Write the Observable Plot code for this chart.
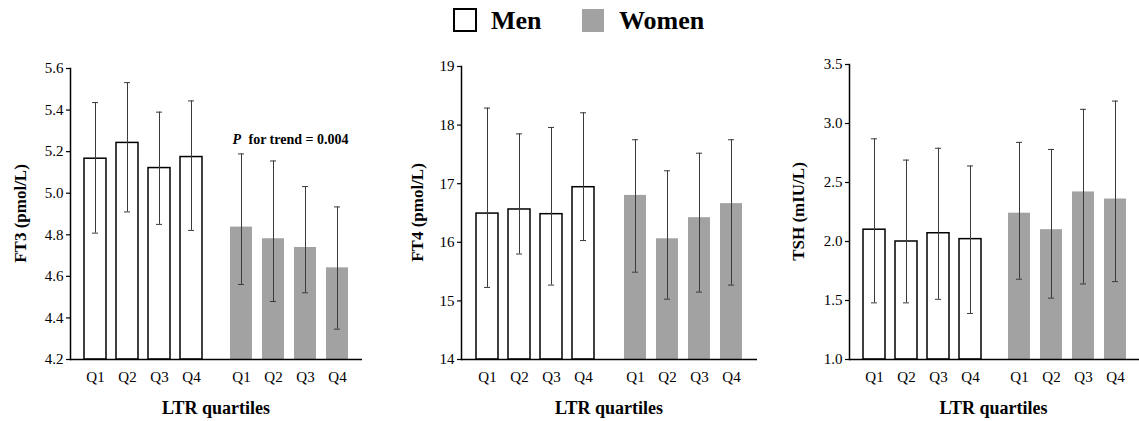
<!DOCTYPE html>
<html>
<head>
<meta charset="utf-8">
<script src="https://cdn.jsdelivr.net/npm/d3@7"></script>
<script src="https://cdn.jsdelivr.net/npm/@observablehq/plot@0.6"></script>
<style>
  html, body { margin: 0; padding: 0; background: #fff; }
  #wrap { position: relative; width: 1139px; height: 421px; overflow: hidden; font-family: "Liberation Serif", "Times New Roman", serif; }
  #legend { position: absolute; left: 0; top: 0; width: 1139px; height: 44px; }
  .lg-box { position: absolute; box-sizing: border-box; }
  .lg-text { position: absolute; font-size: 26px; font-weight: bold; line-height: 26px; color: #000; white-space: nowrap; }
  .panel { position: absolute; top: 44px; }
  .panel svg text { font-family: "Liberation Serif", "Times New Roman", serif; }
</style>
</head>
<body>
<div id="wrap">
  <div id="legend">
    <div class="lg-box" style="left:453px;top:8px;width:24px;height:24px;border:2px solid #000;background:#fff;"></div>
    <div class="lg-text" style="left:491px;top:8px;">Men</div>
    <div class="lg-box" style="left:582px;top:9px;width:22px;height:23px;background:#a2a2a2;"></div>
    <div class="lg-text" style="left:619px;top:8px;">Women</div>
  </div>
  <div id="p1" class="panel" style="left:0px"></div>
  <div id="p2" class="panel" style="left:380px"></div>
  <div id="p3" class="panel" style="left:760px"></div>
</div>
<script>
// ---------- data ----------
const quartiles = ["Q1", "Q2", "Q3", "Q4"];
const sexes = ["Men", "Women"];

const ft3MenMean   = [5.166, 5.242, 5.121, 5.174];
const ft3MenLow    = [4.808, 4.910, 4.850, 4.821];
const ft3MenHigh   = [5.436, 5.532, 5.390, 5.444];
const ft3WomenMean = [4.837, 4.781, 4.739, 4.641];
const ft3WomenLow  = [4.561, 4.479, 4.521, 4.346];
const ft3WomenHigh = [5.189, 5.155, 5.032, 4.934];

const ft4MenMean   = [16.49, 16.56, 16.48, 16.94];
const ft4MenLow    = [15.23, 15.80, 15.27, 16.03];
const ft4MenHigh   = [18.29, 17.85, 17.96, 18.21];
const ft4WomenMean = [16.80, 16.06, 16.42, 16.66];
const ft4WomenLow  = [15.49, 15.03, 15.15, 15.27];
const ft4WomenHigh = [17.75, 17.22, 17.52, 17.75];

const tshMenMean   = [2.10, 2.00, 2.07, 2.02];
const tshMenLow    = [1.48, 1.48, 1.51, 1.39];
const tshMenHigh   = [2.87, 2.69, 2.79, 2.64];
const tshWomenMean = [2.24, 2.10, 2.42, 2.36];
const tshWomenLow  = [1.68, 1.52, 1.64, 1.66];
const tshWomenHigh = [2.84, 2.78, 3.12, 3.19];

const ft3Ticks = [4.2, 4.4, 4.6, 4.8, 5.0, 5.2, 5.4, 5.6];
const ft4Ticks = [14, 15, 16, 17, 18, 19];
const tshTicks = [1.0, 1.5, 2.0, 2.5, 3.0, 3.5];

const yLabels = ["FT3 (pmol/L)", "FT4 (pmol/L)", "TSH (mIU/L)"];
const xLabel = "LTR quartiles";
const trendNote = {panel: 0, sex: "Women", p: "P", text: "for trend = 0.004"};

// ---------- helpers ----------
function rows(menM, menL, menH, wM, wL, wH) {
  const out = [];
  quartiles.forEach((q, i) => out.push({sex: "Men", q, mean: menM[i], low: menL[i], high: menH[i]}));
  quartiles.forEach((q, i) => out.push({sex: "Women", q, mean: wM[i], low: wL[i], high: wH[i]}));
  return out;
}

const panels = [
  {el: "#p1", data: rows(ft3MenMean, ft3MenLow, ft3MenHigh, ft3WomenMean, ft3WomenLow, ft3WomenHigh),
   ticks: ft3Ticks, fmt: ".1f", width: 380, ml: 70, mr: 18, mt: 24, labelX: 20},
  {el: "#p2", data: rows(ft4MenMean, ft4MenLow, ft4MenHigh, ft4WomenMean, ft4WomenLow, ft4WomenHigh),
   ticks: ft4Ticks, fmt: "d", width: 380, ml: 81, mr: 3, mt: 22, labelX: 37},
  {el: "#p3", data: rows(tshMenMean, tshMenLow, tshMenHigh, tshWomenMean, tshWomenLow, tshWomenHigh),
   ticks: tshTicks, fmt: ".1f", width: 379, ml: 88, mr: 0, mt: 20, labelX: 38}
];

const H = 377, MB = 62;
const GRAY = "#a2a2a2";
const ERR = "#3a3a3a";
const SERIF = "'Liberation Serif', 'Times New Roman', serif";

panels.forEach((p, idx) => {
  const yMin = d3.min(p.ticks), yMax = d3.max(p.ticks);
  const men = p.data.filter(d => d.sex === "Men");
  const women = p.data.filter(d => d.sex === "Women");
  const marks = [
    Plot.barY(men, {fx: "sex", x: "q", y1: () => yMin, y2: "mean", fill: "white", stroke: "black", strokeWidth: 1.5}),
    Plot.barY(women, {fx: "sex", x: "q", y1: () => yMin, y2: "mean", fill: GRAY}),
    Plot.ruleX(p.data, {fx: "sex", x: "q", y1: "low", y2: "high", stroke: ERR, strokeWidth: 1}),
    Plot.tickY(p.data, {fx: "sex", x: "q", y: "high", stroke: ERR, strokeWidth: 1, insetLeft: 8, insetRight: 8}),
    Plot.tickY(p.data, {fx: "sex", x: "q", y: "low", stroke: ERR, strokeWidth: 1, insetLeft: 8, insetRight: 8}),
    Plot.ruleY([yMin], {stroke: "black", strokeWidth: 1.5}),
    Plot.axisX({tickSize: 0, tickPadding: 12, fontSize: 15, fontFamily: SERIF, label: null}),
    Plot.axisY({ticks: p.ticks, tickFormat: d3.format(p.fmt), tickSize: 4, tickPadding: 3, fontSize: 15,
      fontFamily: SERIF, label: null, strokeWidth: 1.2}),
    Plot.frame({anchor: "left", facetAnchor: "left", strokeWidth: 1.5})
  ];
  if (trendNote.panel === idx) {
    const top = d3.max(p.data.filter(d => d.sex === trendNote.sex), d => d.high);
    marks.push(Plot.text([trendNote], {fx: "sex", y: () => top, text: "p", dy: -14, dx: -57, textAnchor: "start",
      fontWeight: "bold", fontStyle: "italic", fontSize: 14, fontFamily: SERIF}));
    marks.push(Plot.text([trendNote], {fx: "sex", y: () => top, text: "text", dy: -14, dx: -41, textAnchor: "start",
      fontWeight: "bold", fontSize: 14, fontFamily: SERIF}));
  }
  const chart = Plot.plot({
    width: p.width, height: H,
    marginLeft: p.ml, marginRight: p.mr, marginTop: p.mt, marginBottom: MB,
    style: `font-family: ${SERIF}; font-size: 15px; background: transparent; color: #000;`,
    fx: {domain: sexes, padding: 0, axis: null},
    x: {domain: quartiles, paddingInner: 0.32, paddingOuter: 0.42, axis: null},
    y: {domain: [yMin, yMax], axis: null},
    marks
  });
  const svg = d3.select(chart.tagName.toLowerCase() === "svg" ? chart : chart.querySelector("svg"));
  const plotCx = p.ml + (p.width - p.ml - p.mr) / 2;
  const plotCy = p.mt + (H - MB - p.mt) / 2;
  svg.append("text")
    .attr("transform", `translate(${p.labelX},${plotCy}) rotate(-90)`)
    .attr("text-anchor", "middle").attr("dy", "0.35em")
    .attr("font-weight", "bold").attr("font-size", 17)
    .attr("fill", "#000")
    .text(yLabels[idx]);
  svg.append("text")
    .attr("x", plotCx).attr("y", 364)
    .attr("text-anchor", "middle").attr("dy", "0.35em")
    .attr("font-weight", "bold").attr("font-size", 18)
    .attr("fill", "#000")
    .text(xLabel);
  document.querySelector(p.el).appendChild(chart);
});
</script>
</body>
</html>
